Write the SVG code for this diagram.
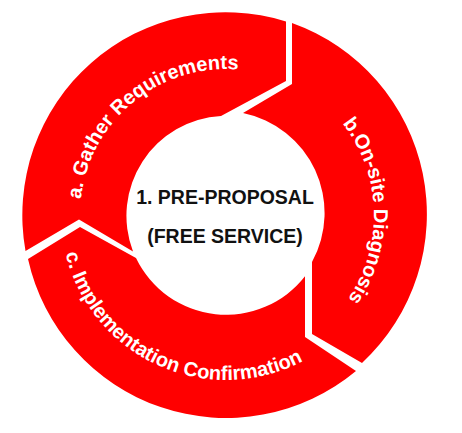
<svg xmlns="http://www.w3.org/2000/svg" xmlns:xlink="http://www.w3.org/1999/xlink" width="462" height="433" viewBox="0 0 462 433">
  <style>
    .seg { fill: #ff0000; stroke: none; }
    .lbl { font-family: "Liberation Sans", Arial, Helvetica, sans-serif; font-weight: bold; font-size: 20px; fill: #ffffff; }
    .ctr { font-family: "Liberation Sans", Arial, Helvetica, sans-serif; font-weight: bold; font-size: 19.5px; fill: #111111; text-anchor: middle; }
  </style>
  <defs>
    <path id="pa" d="M82.2,240.3 A146,146 0 0 1 278.3,78.7" fill="none"/>
    <path id="pb" d="M300,86.8 A148,148 0 0 1 307.9,338.3" fill="none"/>
    <path id="pc" d="M61.9,232.2 A165,165 0 0 0 321.8,349.3" fill="none"/>
  </defs>
  <rect x="0" y="0" width="462" height="433" fill="#ffffff"/>

  <g id="connectors"></g>

  <g id="node-a">
    <path class="seg" d="M25.5,251 L79,219.5 L133,251.5 A100,100 0 0 1 221,116 L286,81 L286,21.5 A203,203 0 0 0 25.5,251 Z"/>
    <text class="lbl"><textPath xlink:href="#pa" href="#pa" startOffset="50%" text-anchor="middle">a. Gather Requirements</textPath></text>
  </g>

  <g id="node-b">
    <path class="seg" d="M292,23 L292,84 L243,113 A102,102 0 0 1 312,262 L312,334 L362,363 A203,203 0 0 0 292,23 Z"/>
    <text class="lbl"><textPath xlink:href="#pb" href="#pb" startOffset="50%" text-anchor="middle">b.On-site Diagnosis</textPath></text>
  </g>

  <g id="node-c">
    <path class="seg" d="M356,371 L305,337 L305,276.3 A100,100 0 0 1 136,258 L80,227 L28,259 A203,203 0 0 0 356,371 Z"/>
    <text class="lbl"><textPath xlink:href="#pc" href="#pc" startOffset="50%" text-anchor="middle">c. Implementation Confirmation</textPath></text>
  </g>

  <g id="node-center">
    <text class="ctr" x="225" y="204">1. PRE-PROPOSAL</text>
    <text class="ctr" x="225" y="243">(FREE SERVICE)</text>
  </g>
</svg>
